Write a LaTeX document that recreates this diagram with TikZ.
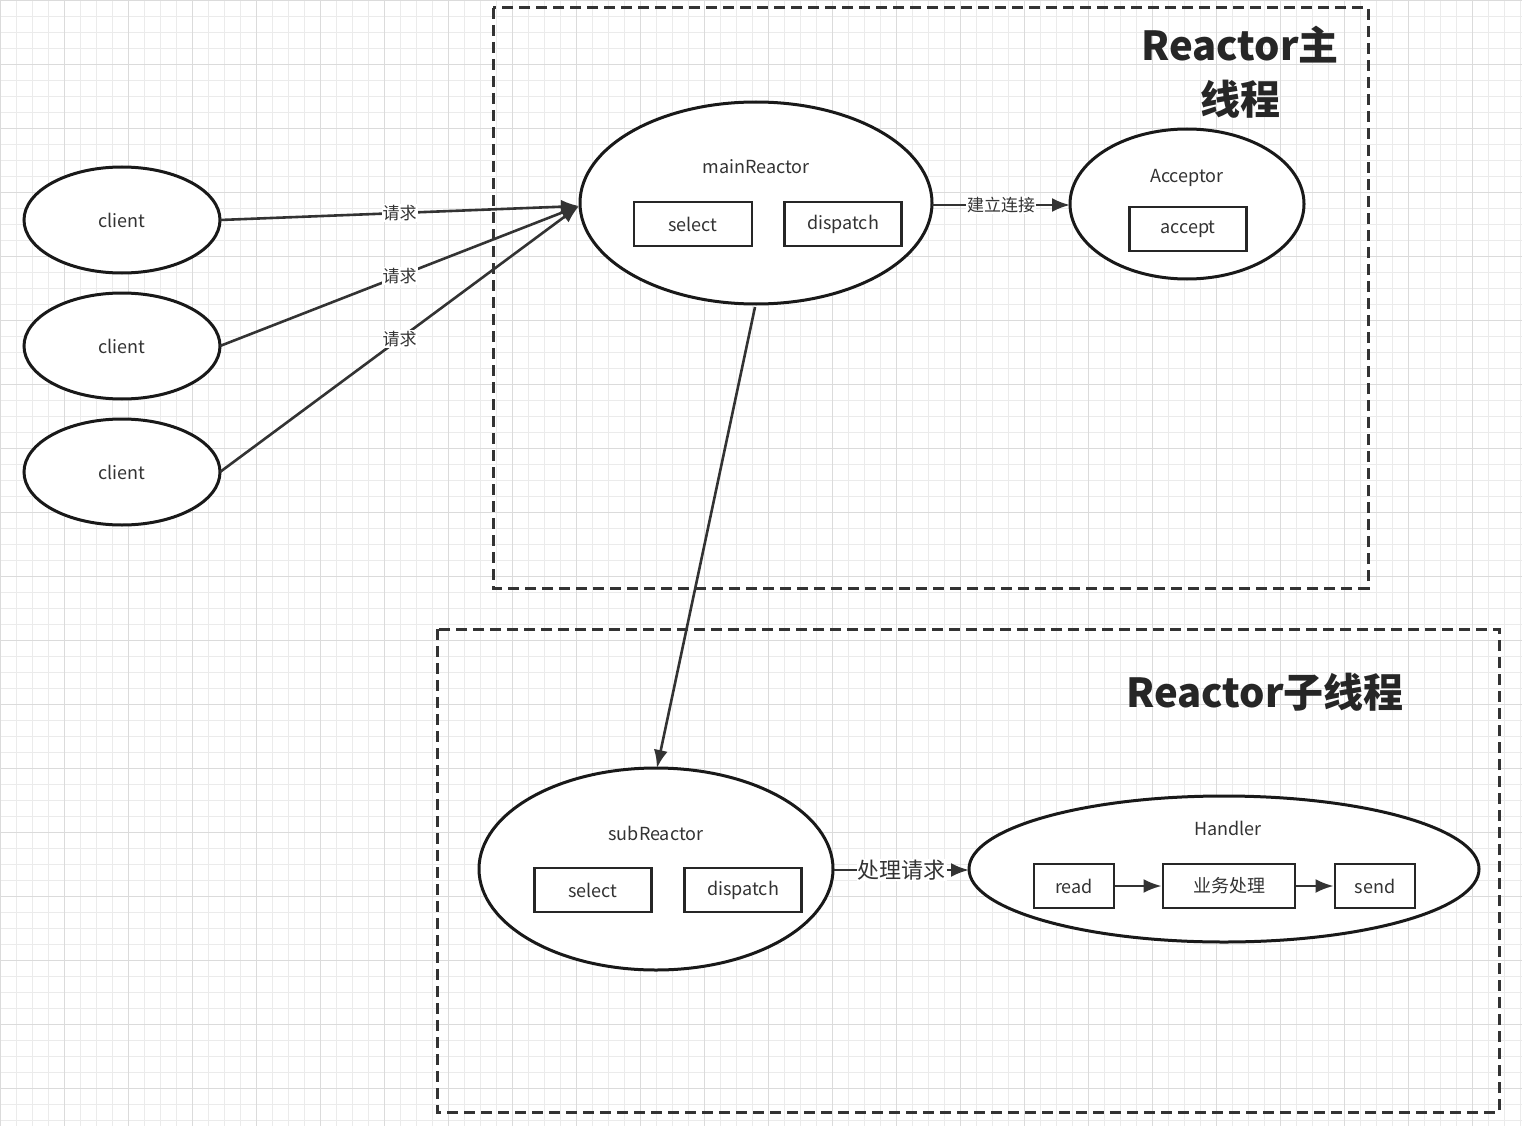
\documentclass[tikz,border=0pt]{standalone}
\usepackage{fontspec}
\setmainfont{Noto Sans CJK SC}
\usetikzlibrary{arrows.meta}
\begin{document}
\begin{tikzpicture}[x=1pt,y=-1pt,
  el/.style={draw=black!90,line width=3pt},
  bx/.style={draw=black!85,line width=2.8pt,fill=white},
  ar/.style={draw=black!80,line width=2.6pt,-{Latex[length=18pt,width=14pt]}},
  lab/.style={fill=white,inner sep=1pt,font=\fontsize{17}{20}\selectfont,text=black!80},
  txt/.style={font=\fontsize{18}{22}\selectfont,text=black!80},
  frame/.style={draw=black!80,line width=3pt,dash pattern=on 11pt off 6pt}]
\useasboundingbox (0,0) rectangle (1522,1126);
\fill[white] (0,0) rectangle (1522,1126);
\foreach \k in {0,16,...,1520} \draw[black!8,line width=0.7pt] (\k,0) -- (\k,1126);
\foreach \k in {0,16,...,1120} \draw[black!8,line width=0.7pt] (0,\k) -- (1522,\k);
\foreach \k in {0,64,...,1520} \draw[black!14,line width=0.9pt] (\k,0) -- (\k,1126);
\foreach \k in {0,64,...,1120} \draw[black!14,line width=0.9pt] (0,\k) -- (1522,\k);
% frames
\draw[frame] (493,8) rectangle (1368,588);
\draw[frame] (437,629) rectangle (1499,1112);
\node[font=\bfseries\fontsize{40}{54}\selectfont,text=black!85,align=center] (t1) at (1240,72) {Reactor主\\线程};
\node[font=\bfseries\fontsize{40}{50}\selectfont,text=black!85] (t2) at (1265,692) {Reactor子线程};
% clients
\foreach \i/\y in {1/220,2/346,3/472}{
  \draw[el,fill=white] (122,\y) ellipse[x radius=98,y radius=53];
  \node[txt] (c\i) at (122,\y) {client};
  \coordinate (ce\i) at (220,\y);
}
% mainReactor
\draw[el,fill=white] (756,203) ellipse[x radius=176,y radius=101];
\node[txt] (mr) at (756,167) {mainReactor};
\node[bx,txt,minimum width=118pt,minimum height=44pt] (ms) at (693,224) {select};
\node[bx,txt,minimum width=117pt,minimum height=44pt] (md) at (843,224) {dispatch};
\coordinate (mw) at (579,206);
\coordinate (me) at (932,205);
\coordinate (mbot) at (755,307);
% Acceptor
\draw[el,fill=white] (1187,204) ellipse[x radius=117,y radius=75];
\node[txt] (ac) at (1187,178) {Acceptor};
\node[bx,txt,minimum width=117pt,minimum height=44pt] (acc) at (1188,229) {accept};
\coordinate (aw) at (1070,205);
% subReactor
\draw[el,fill=white] (656,869) ellipse[x radius=177,y radius=101];
\node[txt] (sr) at (656,833) {subReactor};
\node[bx,txt,minimum width=117pt,minimum height=44pt] (ss) at (593,890) {select};
\node[bx,txt,minimum width=117pt,minimum height=44pt] (sd) at (743,890) {dispatch};
\coordinate (stop) at (657,768);
\coordinate (se) at (834,870);
% Handler
\draw[el,fill=white] (1224,869) ellipse[x radius=255,y radius=73];
\node[txt] (hd) at (1228,828) {Handler};
\node[bx,txt,minimum width=80pt,minimum height=44pt] (rd) at (1074,886) {read};
\node[bx,txt,minimum width=132pt,minimum height=44pt] (yw) at (1229,886) {业务处理};
\node[bx,txt,minimum width=80pt,minimum height=44pt] (sn) at (1375,886) {send};
\coordinate (hw) at (969,870);
% arrows
\draw[ar] (ce1) -- node[lab,pos=0.5] {请求} (mw);
\draw[ar] (ce2) -- node[lab,pos=0.5] {请求} (mw);
\draw[ar] (ce3) -- node[lab,pos=0.5] {请求} (mw);
\draw[ar] (me) -- node[lab] {建立连接} (aw);
\draw[ar] (mbot) -- (stop);
\draw[ar] (se) -- node[lab,font=\fontsize{22}{26}\selectfont] {处理请求} (hw);
\draw[ar] (rd) -- (yw);
\draw[ar] (yw) -- (sn);
\end{tikzpicture}
\end{document}
